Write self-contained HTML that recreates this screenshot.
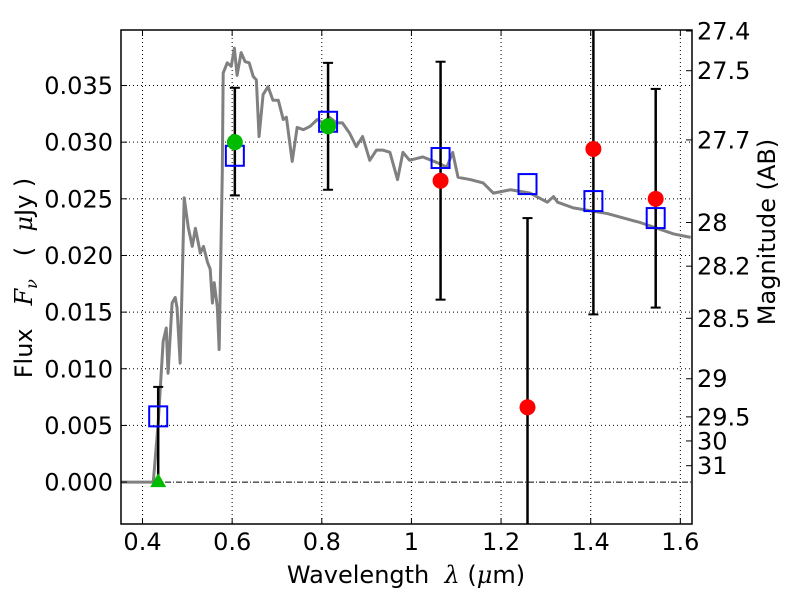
<!DOCTYPE html>
<html><head><meta charset="utf-8"><style>
html,body{margin:0;padding:0;background:#fff;}
svg{display:block;font-family:"DejaVu Sans","Liberation Sans",sans-serif;}
</style></head><body>
<svg id="chart" width="800" height="600" viewBox="0 0 800 600">
<g id="grid"></g>
<g id="plot"></g>
<g id="axes"></g>
<text transform="translate(32,278) rotate(-90)" text-anchor="middle" font-size="24" xml:space="preserve">Flux   <tspan font-style="italic" font-family="DejaVu Serif, serif">F</tspan><tspan font-style="italic" font-family="DejaVu Serif, serif" font-size="16" dy="5">ν</tspan><tspan dy="-5">   (  </tspan><tspan font-style="italic" font-family="DejaVu Serif, serif">μ</tspan>Jy )</text>
<text transform="translate(775,232) rotate(-90)" text-anchor="middle" font-size="24">Magnitude (AB)</text>
<text x="406" y="583" text-anchor="middle" font-size="24" xml:space="preserve">Wavelength  <tspan font-style="italic" font-family="DejaVu Serif, serif">λ</tspan> (<tspan font-style="italic" font-family="DejaVu Serif, serif">μ</tspan>m)</text>
</svg>
<script>
const specLam=[0.352,0.422,0.424,0.435,0.446,0.453,0.457,0.466,0.473,0.477,0.484,0.489,0.493,0.502,0.511,0.518,0.529,0.536,0.545,0.551,0.556,0.560,0.567,0.571,0.578,0.580,0.589,0.598,0.605,0.611,0.620,0.629,0.638,0.647,0.654,0.660,0.669,0.680,0.691,0.703,0.714,0.721,0.734,0.745,0.759,0.774,0.790,0.803,0.817,0.833,0.846,0.862,0.877,0.891,0.907,0.922,0.936,0.952,0.969,0.981,0.996,1.025,1.057,1.079,1.092,1.104,1.131,1.160,1.183,1.221,1.265,1.303,1.317,1.326,1.361,1.437,1.511,1.585,1.623];
const specFlux=[0,0,0,0.0052,0.0124,0.0136,0.0096,0.0158,0.0163,0.0154,0.0105,0.0184,0.0251,0.0225,0.0208,0.0224,0.0202,0.0208,0.0194,0.0188,0.0158,0.0176,0.0154,0.0117,0.0273,0.0361,0.0370,0.0367,0.0383,0.0359,0.0379,0.0371,0.0370,0.0358,0.0355,0.0305,0.0342,0.0349,0.0337,0.0337,0.0320,0.0322,0.0283,0.0313,0.0311,0.0314,0.0320,0.0317,0.0322,0.0317,0.0317,0.0308,0.0296,0.0305,0.0284,0.0293,0.0293,0.0291,0.0267,0.0291,0.0284,0.0287,0.0282,0.0278,0.0291,0.0269,0.0267,0.0264,0.0255,0.0258,0.0255,0.0247,0.0252,0.0247,0.0242,0.0237,0.0229,0.0219,0.0216];
const bandLam=[0.435,0.606,0.814,1.065,1.259,1.406,1.545];
const modelFlux=[0.0058,0.0288,0.0318,0.0286,0.0263,0.0248,0.0233];
const obsFlux=[0,0.0300,0.0314,0.0266,0.0066,0.0294,0.0250];
const obsColor=["tri","green","green","red","red","red","red"];
const errHi=[0.0084,0.0348,0.0370,0.0371,0.0233,0.0450,0.0347];
const errLo=[0,0.0253,0.0258,0.0161,-0.0100,0.0148,0.0154];
const xTicks=[0.4,0.6,0.8,1.0,1.2,1.4,1.6];
const xTickLabels=["0.4","0.6","0.8","1","1.2","1.4","1.6"];
const yTicks=[0,0.005,0.01,0.015,0.02,0.025,0.03,0.035];
const yTickLabels=["0.000","0.005","0.010","0.015","0.020","0.025","0.030","0.035"];
const magTicks=[27.4,27.5,27.7,28,28.2,28.5,29,29.5,30,31];
const magLabels=["27.4","27.5","27.7","28","28.2","28.5","29","29.5","30","31"];

const L=121,R=692,T=30,B=524;
const x0=0.352,x1=1.626,y0=-0.0037,y1=0.0399;
const sx=v=>L+(v-x0)/(x1-x0)*(R-L);
const sy=v=>B-(v-y0)/(y1-y0)*(B-T);
const NS="http://www.w3.org/2000/svg";
function mk(parent,tag,attrs){const e=document.createElementNS(NS,tag);for(const k in attrs)e.setAttribute(k,attrs[k]);parent.appendChild(e);return e;}
const grid=document.getElementById('grid'),plot=document.getElementById('plot'),axes=document.getElementById('axes');
const svg=document.getElementById('chart');
let cp=mk(svg,'clipPath',{id:'clip'});mk(cp,'rect',{x:L,y:T,width:R-L,height:B-T});
plot.setAttribute('clip-path','url(#clip)');

xTicks.forEach((v,i)=>{
 const g=mk(grid,'line',{x1:sx(v),x2:sx(v),y1:T,y2:B,stroke:'#000','stroke-width':1,'stroke-dasharray':'1,3'});
 
 
 mk(axes,'line',{x1:sx(v),x2:sx(v),y1:B,y2:B-6,stroke:'#000'});
 mk(axes,'line',{x1:sx(v),x2:sx(v),y1:T,y2:T+6,stroke:'#000'});
 const t=mk(axes,'text',{x:sx(v),y:550,'text-anchor':'middle','font-size':24});
 t.textContent=xTickLabels[i];
 
 
});
yTicks.forEach((v,i)=>{
 if(v!==0){const g=mk(grid,'line',{x1:L,x2:R,y1:sy(v),y2:sy(v),stroke:'#000','stroke-width':1,'stroke-dasharray':'1,3'});
 
 }
 mk(axes,'line',{x1:L,x2:L+6,y1:sy(v),y2:sy(v),stroke:'#000'});
 const t=mk(axes,'text',{x:113,y:sy(v)+8.5,'text-anchor':'end','font-size':24});
 t.textContent=yTickLabels[i];
 
 
});
magTicks.forEach((m,i)=>{
 const f=Math.pow(10,(23.9-m)/2.5);const y=sy(f);
 mk(axes,'line',{x1:R,x2:R-6,y1:y,y2:y,stroke:'#000'});
 const t=mk(axes,'text',{x:697,y:y+8.5,'text-anchor':'start','font-size':24});
 t.textContent=magLabels[i];
 
 
});
const z=mk(plot,'line',{x1:L,x2:R,y1:sy(0),y2:sy(0),stroke:'#000','stroke-width':1,'stroke-dasharray':'6,2,1,2'});


const sp=mk(plot,'polyline',{points:specLam.map((l,i)=>sx(l)+','+sy(specFlux[i])).join(' '),fill:'none',stroke:'#808080','stroke-width':3,'stroke-linejoin':'round'});


bandLam.forEach((l,i)=>{
 const x=sx(l);
 const e=mk(plot,'line',{x1:x,x2:x,y1:sy(errHi[i]),y2:sy(errLo[i]),stroke:'#000','stroke-width':2.5});
 
 
 mk(plot,'line',{x1:x-5,x2:x+5,y1:sy(errHi[i]),y2:sy(errHi[i]),stroke:'#000','stroke-width':2});
 mk(plot,'line',{x1:x-5,x2:x+5,y1:sy(errLo[i]),y2:sy(errLo[i]),stroke:'#000','stroke-width':2});
});
bandLam.forEach((l,i)=>{
 const s=mk(plot,'rect',{x:sx(l)-9,y:sy(modelFlux[i])-10,width:18,height:20,fill:'none',stroke:'#0000ff','stroke-width':2});
 
 
});
bandLam.forEach((l,i)=>{
 const x=sx(l),y=sy(obsFlux[i]);let p;
 if(obsColor[i]==='tri'){p=mk(plot,'polygon',{points:`${x},${y-9} ${x-8},${y+5} ${x+8},${y+5}`,fill:'#00bb00'});}
 else p=mk(plot,'circle',{cx:x,cy:y,r:8,fill:obsColor[i]==='green'?'#00bb00':'#ff0000'});
 
 
});
const fr=mk(axes,'rect',{x:L,y:T,width:R-L,height:B-T,fill:'none',stroke:'#000','stroke-width':1.5});


</script>
</body></html>
